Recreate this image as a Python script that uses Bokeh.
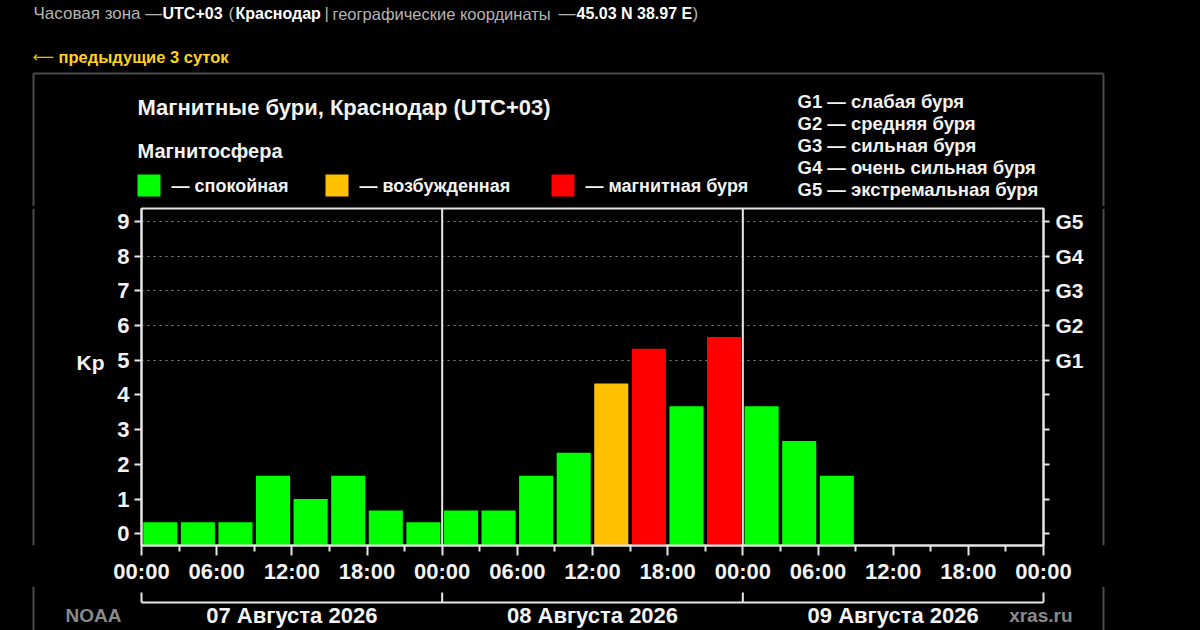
from bokeh.plotting import figure
from bokeh.layouts import column, row
from bokeh.models import Range1d, FixedTicker, LinearAxis, Span, ColumnDataSource
from bokeh.core.properties import value
from bokeh.embed import file_html
from bokeh.resources import INLINE

# ---------------- data ----------------
slot_start_hours = [0, 3, 6, 9, 12, 15, 18, 21,
                    24, 27, 30, 33, 36, 39, 42, 45,
                    48, 51, 54]
kp_values = [0.33, 0.33, 0.33, 1.67, 1.00, 1.67, 0.67, 0.33,
             0.67, 0.67, 1.67, 2.33, 4.33, 5.33, 3.67, 5.67,
             3.67, 2.67, 1.67]
day_start_hours = [0, 24, 48]
day_labels = ["07 Августа 2026", "08 Августа 2026", "09 Августа 2026"]
x_tick_hours = [0, 6, 12, 18, 24, 30, 36, 42, 48, 54, 60, 66, 72]
x_tick_labels = ["00:00", "06:00", "12:00", "18:00"] * 3 + ["00:00"]
kp_ticks = [0, 1, 2, 3, 4, 5, 6, 7, 8, 9]
storm_levels = [5, 6, 7, 8, 9]
storm_labels = ["G1", "G2", "G3", "G4", "G5"]
storm_desc = ["G1 — слабая буря", "G2 — средняя буря", "G3 — сильная буря",
              "G4 — очень сильная буря", "G5 — экстремальная буря"]
legend_texts = ["— спокойная", "— возбужденная", "— магнитная буря"]
legend_colors = ["#00ff00", "#ffc000", "#ff0000"]
header_parts = ["Часовая зона —", "UTC+03", "(", "Краснодар", "|",
                "географические координаты", "—", "45.03 N 38.97 E", ")"]
header_bold = [False, True, False, True, False, False, False, True, False]

# ---------------- geometry (reference-picture pixels) ----------------
PAGE_L, PAGE_T, PAGE_R, PAGE_B = 0, 0, 1200, 630
FL, FR, FT, FB = 141, 1043, 208, 545          # chart frame
Y0 = -0.34
PYU = 34.7
Y1 = Y0 + (FB - FT) / PYU
XSPAN = 72
TOP_B = 206                                     # top band bottom
MID_B = 586                                     # middle band bottom
LEFT_R = 105                                    # left filler right edge
RIGHT_L = 1093                                  # right filler left edge
BOX_L, BOX_R, BOX_T = 33, 1103, 73
BOX_C = "#4a4a4a"
WHITE = "#f2f2f2"
FONT = "Liberation Sans"


def hx(px):
    return (px - FL) * XSPAN / (FR - FL)


def aux_fig(l, r, t, b):
    f = figure(width=r - l, height=b - t, title=None,
               x_range=Range1d(hx(l), hx(r)), y_range=Range1d(b, t),
               output_backend="svg", toolbar_location=None, min_border=0,
               x_axis_location=None, y_axis_location=None,
               background_fill_color="black", border_fill_color="black",
               outline_line_color=None)
    f.grid.visible = False
    return f


def txt(f, px, py, text, size, color=WHITE, bold=True, align="left", font=FONT):
    f.text(x=[hx(px)], y=[py], text=[text], text_font=value(font),
           text_font_size=value(size), text_font_style="bold" if bold else "normal",
           text_color=color, text_align=align, text_baseline="middle")


def vline(f, px, t, b):
    f.segment(x0=[hx(px)], y0=[t], x1=[hx(px)], y1=[b], line_color=BOX_C, line_width=2)


# ---------------- top band ----------------
top = aux_fig(PAGE_L, PAGE_R, PAGE_T, TOP_B)
header_x = [33, 162, 228, 235, 324, 332, 558, 576, 692]
header_size = ["17px", "16px", "17px", "16px", "17px", "16.5px", "17px", "16px", "17px"]
for hxp, part, b, s in zip(header_x, header_parts, header_bold, header_size):
    txt(top, hxp, 13, part, s, "#ffffff" if b else "#b4b4b4", b)
txt(top, 32, 56, "⟵", "15px", "#e0bc10", False, font="DejaVu Sans")
txt(top, 58, 56, "предыдущие 3 суток", "16.5px", "#ffd21f", True)
top.segment(x0=[hx(BOX_L)], y0=[BOX_T], x1=[hx(BOX_R)], y1=[BOX_T], line_color=BOX_C, line_width=2)
vline(top, BOX_L, BOX_T, TOP_B)
vline(top, BOX_R, BOX_T, TOP_B)
txt(top, 137, 107, "Магнитные бури, Краснодар (UTC+03)", "22px")
txt(top, 137, 150, "Магнитосфера", "20px")
leg_x = [137, 325, 551]
top.quad(left=[hx(x) for x in leg_x], right=[hx(x + 23) for x in leg_x],
         top=[174] * 3, bottom=[196] * 3, fill_color=legend_colors, line_color=None)
for lx, t in zip(leg_x, legend_texts):
    txt(top, lx + 34, 185, t, "18px")
for i, t in enumerate(storm_desc):
    txt(top, 797, 101 + 22 * i, t, "18.5px")

# ---------------- left / right fillers ----------------
left = aux_fig(PAGE_L, LEFT_R, TOP_B, MID_B)
vline(left, BOX_L, TOP_B, MID_B)
txt(left, 90, 380, "Kp", "21px", align="center")

right = aux_fig(RIGHT_L, PAGE_R, TOP_B, MID_B)
vline(right, BOX_R, TOP_B, MID_B)

# ---------------- main chart ----------------
def color_for(k):
    if k >= 5:
        return legend_colors[2]
    if k >= 4:
        return legend_colors[1]
    return legend_colors[0]


src = ColumnDataSource(dict(
    x=[s + 1.5 for s in slot_start_hours],
    kp=kp_values,
    color=[color_for(k) for k in kp_values],
))

p = figure(width=RIGHT_L - LEFT_R, height=MID_B - TOP_B, title=None,
           x_range=Range1d(0, XSPAN), y_range=Range1d(Y0, Y1),
           output_backend="svg", toolbar_location=None,
           min_border_left=FL - LEFT_R, min_border_right=RIGHT_L - FR,
           min_border_top=FT - TOP_B, min_border_bottom=MID_B - FB,
           background_fill_color="black", border_fill_color="black",
           outline_line_color="#e6e6e6", outline_line_width=2)

p.xgrid.visible = False
p.ygrid.ticker = FixedTicker(ticks=storm_levels)
p.ygrid.grid_line_color = "#8c8c8c"
p.ygrid.grid_line_dash = "2 4"

p.vbar(x="x", top="kp", bottom=Y0, width=2.72, color="color", line_color=None, source=src)

for d in day_start_hours[1:]:
    p.add_layout(Span(location=d, dimension="height", line_color="#e6e6e6", line_width=2))


def style_axis(ax, size="22px"):
    ax.axis_line_color = "#e6e6e6"
    ax.axis_line_width = 2
    ax.major_tick_line_color = "#e6e6e6"
    ax.major_tick_line_width = 2
    ax.minor_tick_line_color = "#e6e6e6"
    ax.minor_tick_line_width = 2
    ax.major_tick_in = 0
    ax.minor_tick_in = 0
    ax.major_label_text_color = WHITE
    ax.major_label_text_font = FONT
    ax.major_label_text_font_style = "bold"
    ax.major_label_text_font_size = size


yl = p.yaxis[0]
yl.ticker = FixedTicker(ticks=kp_ticks)
style_axis(yl)
yl.major_tick_out = 7
yl.minor_tick_out = 0
yl.major_label_standoff = 5

yr = LinearAxis(ticker=FixedTicker(ticks=kp_ticks))
style_axis(yr, "21px")
yr.major_tick_out = 6
yr.minor_tick_out = 0
yr.major_label_standoff = 6
overrides = {k: "" for k in kp_ticks}
overrides.update({lv: lb for lv, lb in zip(storm_levels, storm_labels)})
yr.major_label_overrides = overrides
p.add_layout(yr, "right")

xb = p.xaxis[0]
xb.ticker = FixedTicker(ticks=x_tick_hours, minor_ticks=[h + 3 for h in x_tick_hours[:-1]])
style_axis(xb)
xb.major_tick_out = 10
xb.minor_tick_out = 6
xb.major_label_standoff = 3
xb.major_label_overrides = {h: lb for h, lb in zip(x_tick_hours, x_tick_labels)}

# ---------------- bottom band ----------------
bot = aux_fig(PAGE_L, PAGE_R, MID_B, PAGE_B)
vline(bot, BOX_L, MID_B, PAGE_B)
vline(bot, BOX_R, MID_B, PAGE_B)
BR_TOP, BR_Y, LAB_Y = 592, 602, 615
bot.segment(x0=[0], y0=[BR_Y], x1=[XSPAN], y1=[BR_Y], line_color="#e6e6e6", line_width=2)
ends = day_start_hours + [XSPAN]
bot.segment(x0=ends, y0=[BR_Y] * len(ends), x1=ends, y1=[BR_TOP] * len(ends),
            line_color="#e6e6e6", line_width=2)
bot.text(x=[d + 12 for d in day_start_hours], y=[LAB_Y] * 3, text=day_labels,
         text_font=value(FONT), text_font_size=value("22px"), text_font_style="bold",
         text_color=WHITE, text_align="center", text_baseline="middle")
txt(bot, 65, LAB_Y, "NOAA", "19px", "#8a8a8a")
txt(bot, 1072, LAB_Y, "xras.ru", "19px", "#8a8a8a", align="right")

layout = column(top, row(left, p, right), bot)

html = file_html(layout, INLINE, title="Магнитные бури")
html = html.replace("</head>", "<style>html,body{background:#000;}</style></head>", 1)
open("out.html", "w").write(html)
